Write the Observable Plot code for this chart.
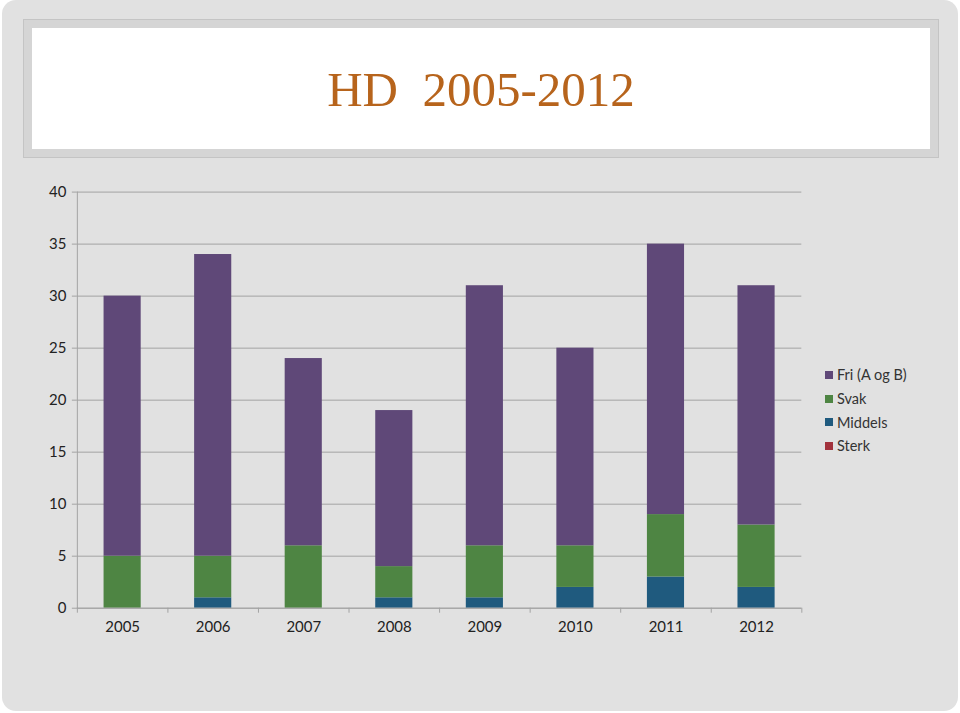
<!DOCTYPE html>
<html>
<head>
<meta charset="utf-8">
<script src="https://cdn.jsdelivr.net/npm/d3@7"></script>
<script src="https://cdn.jsdelivr.net/npm/@observablehq/plot@0.6"></script>
<style>
  html, body { margin: 0; padding: 0; background: #ffffff; }
  #slide { position: relative; width: 956px; height: 711px; margin-left: 2px; background: #e1e1e1; border-radius: 14px; overflow: hidden; }
  #titlebox { position: absolute; left: 22px; top: 20px; width: 898px; height: 121px; background: #ffffff; border: 8px solid #d5d5d5; outline: 1px solid #c4c4c4; box-sizing: content-box; }
  #title { position: absolute; left: 0; right: 0; top: 0; bottom: 0; display: flex; align-items: center; justify-content: center; font-family: "Liberation Serif", "Times New Roman", serif; font-size: 49px; color: #b7641c; white-space: pre; padding-top: 2px; }
  #chart { position: absolute; left: -2px; top: 0; }
  #legend { position: absolute; left: 823px; top: 363px; font-family: Lato, sans-serif; font-size: 14.5px; color: #333; }
  #legend .row { height: 23.7px; display: flex; align-items: center; }
  #legend .sw { width: 8px; height: 8px; margin-right: 4px; }
</style>
</head>
<body>
<div id="slide">
  <div id="titlebox"><div id="title">HD  2005-2012</div></div>
  <div id="chart"></div>
  <div id="legend"></div>
</div>
<script>
const years = ["2005", "2006", "2007", "2008", "2009", "2010", "2011", "2012"];
const sterk   = [0, 0, 0, 0, 0, 0, 0, 0];
const middels = [0, 1, 0, 1, 1, 2, 3, 2];
const svak    = [5, 4, 6, 3, 5, 4, 6, 6];
const fri     = [25, 29, 18, 15, 25, 19, 26, 23];
const seriesNames = ["Sterk", "Middels", "Svak", "Fri (A og B)"];
const seriesColors = ["#a2323c", "#1f5a7e", "#4e8543", "#5f4878"];
const yTicks = [0, 5, 10, 15, 20, 25, 30, 35, 40];

const seriesValues = [sterk, middels, svak, fri];
const data = [];
seriesNames.forEach((s, i) => {
  years.forEach((y, j) => data.push({year: y, series: s, value: seriesValues[i][j]}));
});

const W = 960, H = 713;
const mLeft = 77, mRight = 157, mTop = 192, mBottom = 104;
const step = (W - mLeft - mRight) / years.length;

const chart = Plot.plot({
  width: W,
  height: H,
  marginLeft: mLeft,
  marginRight: mRight,
  marginTop: mTop,
  marginBottom: mBottom,
  style: { background: "transparent", fontFamily: "Lato, sans-serif", fontSize: "15px", color: "#222" },
  x: { domain: years, paddingInner: 0.59, paddingOuter: 0.295, round: false, label: null },
  y: { domain: [0, 40], label: null },
  color: { domain: seriesNames, range: seriesColors },
  marks: [
    Plot.gridY(yTicks, { stroke: "#a3a3a3", strokeOpacity: 1 }),
    Plot.barY(data, { x: "year", y: "value", fill: "series", order: seriesNames }),
    Plot.axisY(yTicks, { tickSize: 5, tickPadding: 6, stroke: "#a3a3a3", fill: "#222", fontSize: 15, label: null }),
    Plot.frame({ anchor: "left", stroke: "#a3a3a3" }),
    Plot.ruleY([0], { stroke: "#a3a3a3" }),
    Plot.axisX({ tickSize: 0, tickPadding: 13, fill: "#222", fontSize: 15, label: null }),
    Plot.axisX({ tickSize: 5, stroke: "#a3a3a3", tickFormat: () => "", dx: -step / 2, label: null }),
    Plot.axisX([years[years.length - 1]], { tickSize: 5, stroke: "#a3a3a3", tickFormat: () => "", dx: step / 2, label: null })
  ]
});
document.getElementById("chart").appendChild(chart);

const legend = document.getElementById("legend");
[...seriesNames].reverse().forEach((s) => {
  const i = seriesNames.indexOf(s);
  const row = document.createElement("div");
  row.className = "row";
  const sw = document.createElement("div");
  sw.className = "sw";
  sw.style.background = seriesColors[i];
  const t = document.createElement("span");
  t.textContent = s;
  row.appendChild(sw);
  row.appendChild(t);
  legend.appendChild(row);
});
</script>
</body>
</html>
